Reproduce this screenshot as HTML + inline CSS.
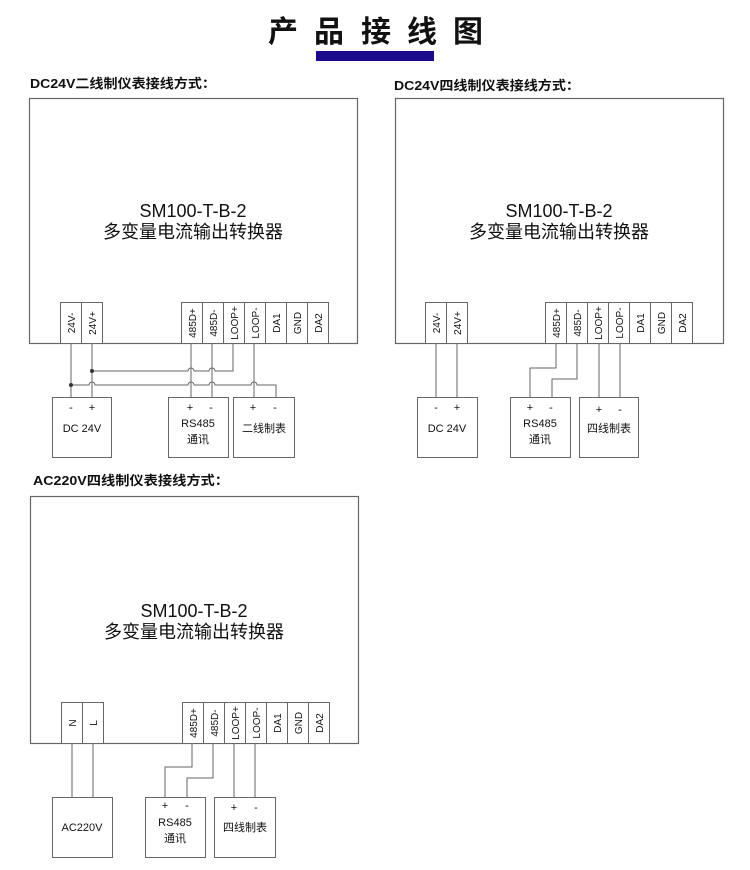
<!DOCTYPE html>
<html><head><meta charset="utf-8"><style>
html,body{margin:0;padding:0;background:#fff;}
svg{display:block;}
text{font-family:"Liberation Sans","Noto Sans CJK SC",sans-serif;fill:#111;}
</style></head><body>
<svg width="750" height="870" viewBox="0 0 750 870" xmlns="http://www.w3.org/2000/svg">
<!-- Title -->
<g font-size="30" font-weight="bold" style="font-family:'Noto Sans CJK SC',sans-serif">
<text x="268" y="42">产</text><text x="314" y="42">品</text><text x="361" y="42">接</text><text x="407" y="42">线</text><text x="453" y="42">图</text>
</g>
<rect x="316" y="51" width="118" height="10" fill="#1c0a8c"/>

<g font-size="13" font-weight="bold" style="font-family:'Liberation Mono','Noto Sans CJK SC',monospace">
<text x="30" y="88" textLength="186" lengthAdjust="spacingAndGlyphs">DC24V二线制仪表接线方式：</text>
<text x="394" y="90" textLength="186" lengthAdjust="spacingAndGlyphs">DC24V四线制仪表接线方式：</text>
<text x="33" y="485" textLength="196" lengthAdjust="spacingAndGlyphs">AC220V四线制仪表接线方式：</text>
</g>

<g fill="none" stroke="#666" stroke-width="1.2">
<!-- main boxes -->
<rect x="29.5" y="98.5" width="328" height="245"/>
<rect x="395.5" y="98.5" width="328" height="245"/>
<rect x="30.5" y="496.5" width="328" height="247"/>
</g>

<g font-size="18" text-anchor="middle">
<text x="193" y="217">SM100-T-B-2</text>
<text x="193" y="238">多变量电流输出转换器</text>
<text x="559" y="217">SM100-T-B-2</text>
<text x="559" y="238">多变量电流输出转换器</text>
<text x="194" y="617">SM100-T-B-2</text>
<text x="194" y="638">多变量电流输出转换器</text>
</g>

<!-- terminal blocks -->
<g fill="#fff" stroke="#666" stroke-width="1">
<!-- diagram 1 -->
<rect x="60.5" y="302.5" width="21" height="41"/><rect x="81.5" y="302.5" width="21" height="41"/>
<rect x="181.5" y="302.5" width="21" height="41"/><rect x="202.5" y="302.5" width="21" height="41"/><rect x="223.5" y="302.5" width="21" height="41"/><rect x="244.5" y="302.5" width="21" height="41"/><rect x="265.5" y="302.5" width="21" height="41"/><rect x="286.5" y="302.5" width="21" height="41"/><rect x="307.5" y="302.5" width="21" height="41"/>
<!-- diagram 2 -->
<rect x="425.5" y="302.5" width="21" height="41"/><rect x="446.5" y="302.5" width="21" height="41"/>
<rect x="545.5" y="302.5" width="21" height="41"/><rect x="566.5" y="302.5" width="21" height="41"/><rect x="587.5" y="302.5" width="21" height="41"/><rect x="608.5" y="302.5" width="21" height="41"/><rect x="629.5" y="302.5" width="21" height="41"/><rect x="650.5" y="302.5" width="21" height="41"/><rect x="671.5" y="302.5" width="21" height="41"/>
<!-- diagram 3 -->
<rect x="61.5" y="702.5" width="21" height="41"/><rect x="82.5" y="702.5" width="21" height="41"/>
<rect x="182.5" y="702.5" width="21" height="41"/><rect x="203.5" y="702.5" width="21" height="41"/><rect x="224.5" y="702.5" width="21" height="41"/><rect x="245.5" y="702.5" width="21" height="41"/><rect x="266.5" y="702.5" width="21" height="41"/><rect x="287.5" y="702.5" width="21" height="41"/><rect x="308.5" y="702.5" width="21" height="41"/>
<!-- device boxes -->
<rect x="52.5" y="397.5" width="59" height="60"/><rect x="168.5" y="397.5" width="60" height="60"/><rect x="233.5" y="397.5" width="61" height="60"/>
<rect x="417.5" y="397.5" width="60" height="60"/><rect x="510.5" y="397.5" width="60" height="60"/><rect x="579.5" y="397.5" width="59" height="60"/>
<rect x="52.5" y="797.5" width="60" height="60"/><rect x="145.5" y="797.5" width="60" height="60"/><rect x="214.5" y="797.5" width="61" height="60"/>
</g>

<!-- terminal labels -->
<g font-size="10" text-anchor="middle">
<text transform="translate(75,323) rotate(-90)">24V-</text>
<text transform="translate(96,323) rotate(-90)">24V+</text>
<text transform="translate(196,323) rotate(-90)">485D+</text>
<text transform="translate(217,323) rotate(-90)">485D-</text>
<text transform="translate(238,323) rotate(-90)">LOOP+</text>
<text transform="translate(259,323) rotate(-90)">LOOP-</text>
<text transform="translate(280,323) rotate(-90)">DA1</text>
<text transform="translate(301,323) rotate(-90)">GND</text>
<text transform="translate(322,323) rotate(-90)">DA2</text>

<text transform="translate(440,323) rotate(-90)">24V-</text>
<text transform="translate(461,323) rotate(-90)">24V+</text>
<text transform="translate(560,323) rotate(-90)">485D+</text>
<text transform="translate(581,323) rotate(-90)">485D-</text>
<text transform="translate(602,323) rotate(-90)">LOOP+</text>
<text transform="translate(623,323) rotate(-90)">LOOP-</text>
<text transform="translate(644,323) rotate(-90)">DA1</text>
<text transform="translate(665,323) rotate(-90)">GND</text>
<text transform="translate(686,323) rotate(-90)">DA2</text>

<text transform="translate(76,723) rotate(-90)">N</text>
<text transform="translate(97,723) rotate(-90)">L</text>
<text transform="translate(197,723) rotate(-90)">485D+</text>
<text transform="translate(218,723) rotate(-90)">485D-</text>
<text transform="translate(239,723) rotate(-90)">LOOP+</text>
<text transform="translate(260,723) rotate(-90)">LOOP-</text>
<text transform="translate(281,723) rotate(-90)">DA1</text>
<text transform="translate(302,723) rotate(-90)">GND</text>
<text transform="translate(323,723) rotate(-90)">DA2</text>
</g>

<!-- wires -->
<g fill="none" stroke="#666" stroke-width="1">
<!-- diagram 1 -->
<path d="M71,343.5 V397"/>
<path d="M92,343.5 V397"/>
<path d="M191,343.5 V397"/>
<path d="M212,343.5 V397"/>
<path d="M254,343.5 V397"/>
<path d="M233,343.5 V371 H215 a3,3 0 0 0 -6,0 H194 a3,3 0 0 0 -6,0 H92"/>
<path d="M71,385 H89 a3,3 0 0 1 6,0 H188 a3,3 0 0 1 6,0 H209 a3,3 0 0 1 6,0 H251 a3,3 0 0 1 6,0 H276 V397"/>
<!-- diagram 2 -->
<path d="M436,343.5 V397"/>
<path d="M457,343.5 V397"/>
<path d="M556,343.5 V368 H530 V397"/>
<path d="M577,343.5 V379 H552 V397"/>
<path d="M599,343.5 V397"/>
<path d="M620,343.5 V397"/>
<!-- diagram 3 -->
<path d="M72,743.5 V797"/>
<path d="M93,743.5 V797"/>
<path d="M192,743.5 V767 H165 V797"/>
<path d="M213,743.5 V778 H187 V797"/>
<path d="M234,743.5 V797"/>
<path d="M255,743.5 V797"/>
</g>
<circle cx="71" cy="385" r="2" fill="#333"/>
<circle cx="92" cy="371" r="2" fill="#333"/>

<!-- device labels -->
<g font-size="11" text-anchor="middle">
<text x="71" y="411">-</text><text x="92" y="411">+</text>
<text x="82" y="432">DC 24V</text>
<text x="190" y="411">+</text><text x="211" y="411">-</text>
<text x="198" y="427">RS485</text><text x="198" y="443">通讯</text>
<text x="253" y="411">+</text><text x="275" y="411">-</text>
<text x="264" y="432">二线制表</text>

<text x="436" y="411">-</text><text x="457" y="411">+</text>
<text x="447" y="432">DC 24V</text>
<text x="530" y="411">+</text><text x="551" y="411">-</text>
<text x="540" y="427">RS485</text><text x="540" y="443">通讯</text>
<text x="599" y="413">+</text><text x="620" y="413">-</text>
<text x="609" y="432">四线制表</text>

<text x="82" y="831">AC220V</text>
<text x="165" y="809">+</text><text x="187" y="809">-</text>
<text x="175" y="826">RS485</text><text x="175" y="842">通讯</text>
<text x="234" y="811">+</text><text x="256" y="811">-</text>
<text x="245" y="831">四线制表</text>
</g>
</svg>
</body></html>
